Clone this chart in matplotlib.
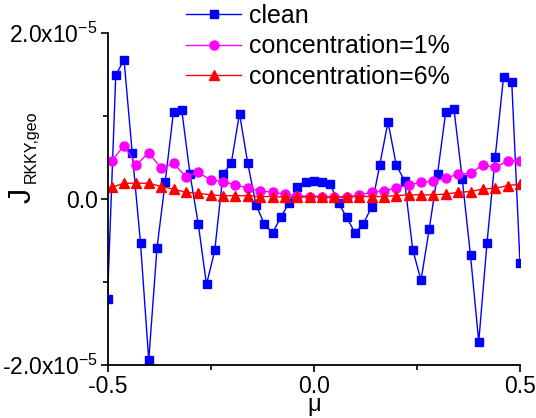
import numpy as np
import matplotlib
matplotlib.use("Agg")
import matplotlib.pyplot as plt
from matplotlib.ticker import FixedLocator

plt.rcParams['font.family'] = ['Liberation Sans', 'DejaVu Sans']
plt.rcParams['mathtext.fontset'] = 'custom'
plt.rcParams['mathtext.rm'] = 'Liberation Sans'
plt.rcParams['mathtext.it'] = 'Liberation Sans:italic'
plt.rcParams['mathtext.default'] = 'rm'

# clean: mu = -0.5 .. 0.5 step 0.02 (values in units of 1e-5)
mu_clean = np.round(np.arange(-0.5, 0.5001, 0.02), 4)
j_clean = np.array([
    -1.21, 1.49, 1.68, 0.55, -0.53, -1.94, -0.59, 0.21, 1.05, 1.07,
    0.30, -0.30, -1.03, -0.62, 0.30, 0.43, 1.03, 0.43, -0.07, -0.30,
    -0.41, -0.22, -0.05, 0.15, 0.20, 0.22, 0.21, 0.18, -0.05, -0.22,
    -0.41, -0.30, -0.10, 0.41, 0.93, 0.41, 0.22, -0.61, -0.98, -0.36,
    0.30, 1.05, 1.08, 0.24, -0.68, -1.72, -0.53, 0.51, 1.47, 1.41,
    -0.77]) * 1e-5

# concentration series: mu = -0.49 .. 0.5 step 0.03
mu_conc = np.round(np.arange(-0.49, 0.5001, 0.03), 4)
j_c1 = np.array([
    0.46, 0.64, 0.41, 0.56, 0.37, 0.43, 0.27, 0.32, 0.23, 0.21,
    0.17, 0.13, 0.10, 0.08, 0.06, 0.04, 0.03, 0.03, 0.02, 0.02,
    0.05, 0.08, 0.10, 0.13, 0.17, 0.20, 0.22, 0.25, 0.30, 0.31,
    0.41, 0.38, 0.46, 0.46]) * 1e-5
j_c6 = np.array([
    0.14, 0.19, 0.19, 0.19, 0.15, 0.12, 0.08, 0.07, 0.05, 0.04,
    0.04, 0.04, 0.03, 0.03, 0.02, 0.02, 0.03, 0.03, 0.02, 0.03,
    0.03, 0.03, 0.03, 0.04, 0.05, 0.05, 0.05, 0.06, 0.08, 0.09,
    0.12, 0.13, 0.16, 0.18]) * 1e-5

labels = ['clean', 'concentration=1%', 'concentration=6%']
xticks = [-0.5, 0.0, 0.5]
xticklabels = ['-0.5', '0.0', '0.5']
yticks = [-2e-5, 0.0, 2e-5]
yticklabels = ['-2.0x10$^{-5}$', '0.0', '2.0x10$^{-5}$']

fig = plt.figure(figsize=(5.36, 4.18), dpi=100)
ax = fig.add_axes([107.5/536, 1-365/418, (520-107.5)/536, (365-33)/418])

ax.plot(mu_clean, j_clean, '-s', color='#0000ff', lw=1.0, ms=5.5, label=labels[0])
ax.plot(mu_conc, j_c1, '-o', color='#ff00ff', lw=1.0, ms=6.5, label=labels[1])
ax.plot(mu_conc, j_c6, '-^', color='#ff0000', lw=1.0, ms=6.5, label=labels[2])

ax.set_xlim(-0.5, 0.5)
ax.set_ylim(-2e-5, 2e-5)
for s in ['top', 'right']:
    ax.spines[s].set_visible(False)
for s in ['left', 'bottom']:
    ax.spines[s].set_linewidth(1.3)

ax.set_xticks(xticks)
ax.set_xticklabels(xticklabels)
ax.set_yticks(yticks)
ax.set_yticklabels(yticklabels)
ax.xaxis.set_minor_locator(FixedLocator([-0.25, 0.25]))
ax.yaxis.set_minor_locator(FixedLocator([-1e-5, 1e-5]))
ax.tick_params(which='major', direction='out', length=5, width=1.2, labelsize=16.5, pad=2)
ax.tick_params(which='minor', direction='out', length=3.5, width=1.2)

ax.set_xlabel('μ', fontsize=17, labelpad=-2.5)

# y-axis label: J with subscript RKKY,geo
fig.text(31/536, 1-203/418, 'J', fontsize=22, rotation=90,
         rotation_mode='anchor', ha='left', va='baseline')
fig.text(36/536, 1-183/418, 'RKKY,geo', fontsize=11.5, rotation=90,
         rotation_mode='anchor', ha='left', va='baseline')

leg = fig.legend(loc='upper left', bbox_to_anchor=(186/536, 1-4/418), frameon=False,
                 fontsize=18, borderpad=0.0, borderaxespad=0.0,
                 handlelength=2.2, handletextpad=0.3, labelspacing=0.25)

fig.savefig('out.png', dpi=100)
